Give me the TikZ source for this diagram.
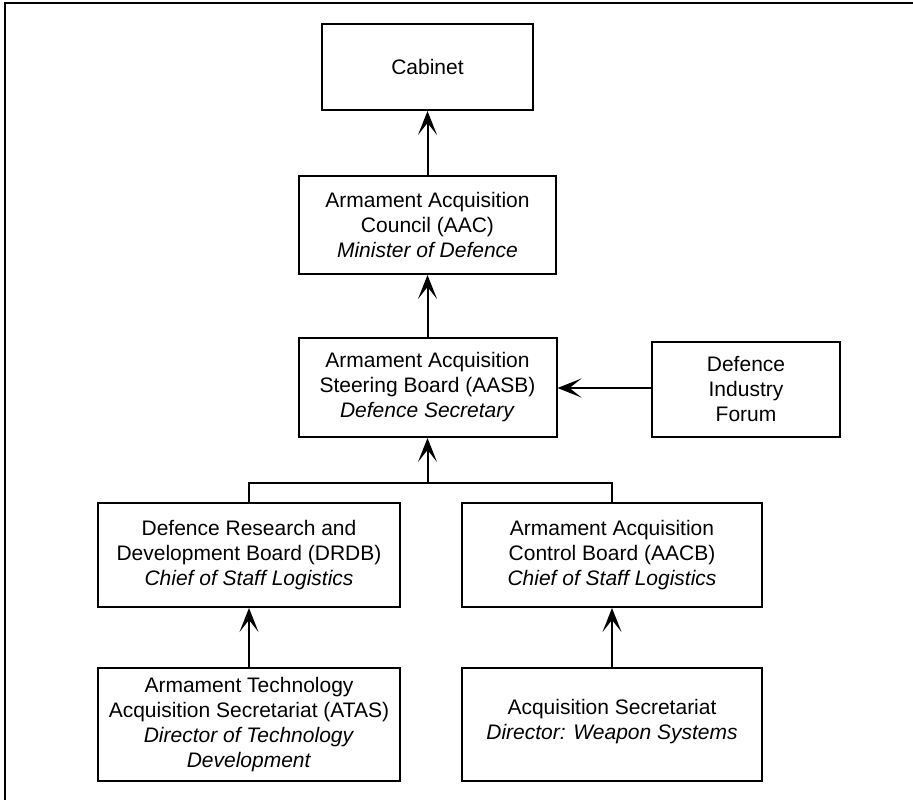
\documentclass[tikz,border=0pt]{standalone}
\usepackage{fontspec}
\setmainfont{Liberation Sans}
\usetikzlibrary{arrows.meta}
\tikzset{
  orgbox/.style={draw, line width=2pt, inner sep=0pt, align=center,
    font=\fontsize{21}{25}\selectfont},
  link/.style={line width=2pt},
  uparrow/.style={link, -{Stealth[length=24pt,width=19pt,inset=12pt]}}
}
\begin{document}
\begin{tikzpicture}[x=1pt,y=-1pt]
\useasboundingbox (0,0) rectangle (913,800);
% page frame (left and top rules)
\draw[line width=2.5pt] (5,800) -- (5,3) -- (913,3);

\node[orgbox, minimum width=211pt, minimum height=86pt] (cab) at (427.5,67) {Cabinet};
\node[orgbox, minimum width=257pt, minimum height=98pt] (aac) at (427.5,225)
  {Armament Acquisition\\Council (AAC)\\\textit{Minister of Defence}};
\node[orgbox, minimum width=258pt, minimum height=99pt] (aasb) at (427.5,387.5)
  {Armament Acquisition\\Steering Board (AASB)\\\textit{Defence Secretary}};
\node[orgbox, minimum width=188pt, minimum height=95pt] (dif) at (746,389.5)
  {Defence\\Industry\\Forum};
\node[orgbox, minimum width=302pt, minimum height=104pt] (drdb) at (249,555)
  {Defence Research and\\Development Board (DRDB)\\\textit{Chief of Staff Logistics}};
\node[orgbox, minimum width=300pt, minimum height=104pt] (aacb) at (612,555)
  {Armament Acquisition\\Control Board (AACB)\\\textit{Chief of Staff Logistics}};
\node[orgbox, minimum width=302pt, minimum height=113pt] (atas) at (249,724.5)
  {Armament Technology\\Acquisition Secretariat (ATAS)\\\textit{Director of Technology}\\\textit{Development}};
\node[orgbox, minimum width=300pt, minimum height=113pt] (acqs) at (612,724.5)
  {Acquisition Secretariat\\\textit{Director: Weapon Systems}\\[-15pt]\mbox{}};

% reporting lines
\draw[uparrow] (aac.north) -- (cab.south);
\draw[uparrow] (aasb.north) -- (aac.south);
\draw[uparrow] (dif.west |- 0,388) -- (aasb.east |- 0,388);
\coordinate (join) at (427.5,483);
\draw[link] (drdb.north) -- (drdb.north |- join) -- (aacb.north |- join) -- (aacb.north);
\draw[uparrow] (join) -- (aasb.south);
\draw[uparrow] (atas.north) -- (drdb.south);
\draw[uparrow] (acqs.north) -- (aacb.south);
\end{tikzpicture}
\end{document}
